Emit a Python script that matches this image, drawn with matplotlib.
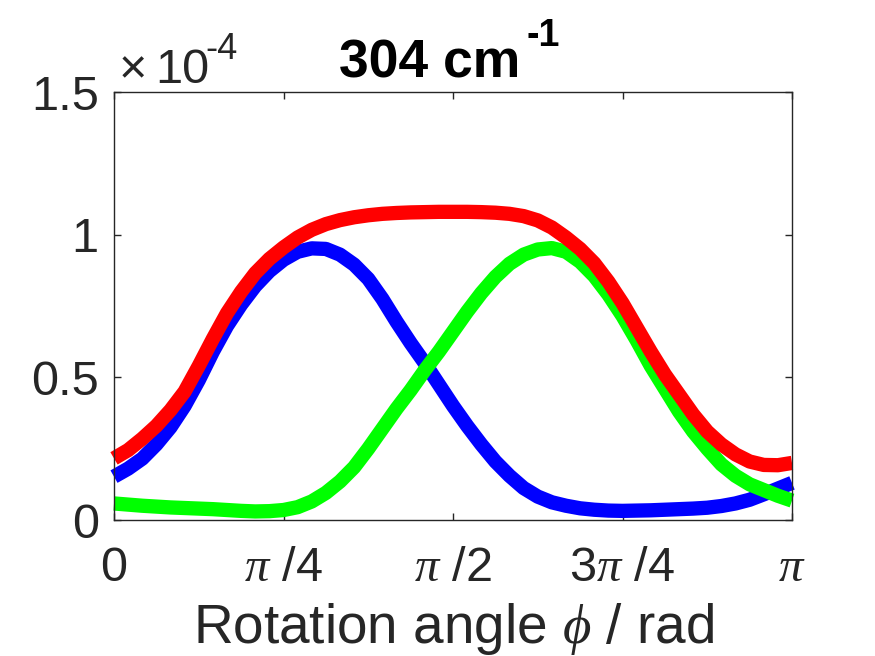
import numpy as np
import matplotlib
matplotlib.use("Agg")
import matplotlib.pyplot as plt
from matplotlib.ticker import FixedLocator

plt.rcParams['font.family'] = ['Liberation Sans', 'DejaVu Sans']
plt.rcParams['mathtext.fontset'] = 'custom'
plt.rcParams['mathtext.rm'] = 'Liberation Sans'
plt.rcParams['mathtext.it'] = 'Liberation Serif:italic'
plt.rcParams['mathtext.bf'] = 'Liberation Sans:bold'

# Rotation angle as a fraction of pi (j/48, j = 0..48)
angle_frac = [j / 48 for j in range(49)]
blue = [0.152, 0.18, 0.215, 0.265, 0.325, 0.40, 0.49, 0.59, 0.68, 0.755,
        0.82, 0.872, 0.912, 0.94, 0.952, 0.95, 0.93, 0.895, 0.845, 0.775,
        0.695, 0.62, 0.55, 0.475, 0.40, 0.33, 0.265, 0.205, 0.155, 0.112,
        0.082, 0.062, 0.05, 0.041, 0.036, 0.033, 0.032, 0.033, 0.034, 0.036,
        0.038, 0.04, 0.043, 0.049, 0.058, 0.071, 0.09, 0.11, 0.13]
green = [0.058, 0.054, 0.05, 0.047, 0.044, 0.042, 0.04, 0.038, 0.035, 0.032,
         0.03, 0.031, 0.035, 0.045, 0.065, 0.095, 0.135, 0.185, 0.25, 0.32,
         0.39, 0.455, 0.525, 0.59, 0.66, 0.73, 0.795, 0.852, 0.898, 0.93,
         0.948, 0.953, 0.94, 0.905, 0.855, 0.79, 0.715, 0.63, 0.54, 0.46,
         0.38, 0.31, 0.25, 0.195, 0.155, 0.125, 0.105, 0.085, 0.068]
red = [0.216, 0.245, 0.285, 0.33, 0.385, 0.45, 0.54, 0.635, 0.725, 0.80,
       0.865, 0.915, 0.955, 0.99, 1.017, 1.037, 1.051, 1.061, 1.068, 1.073,
       1.076, 1.078, 1.079, 1.08, 1.08, 1.08, 1.079, 1.077, 1.073, 1.065,
       1.05, 1.025, 0.99, 0.95, 0.90, 0.835, 0.76, 0.675, 0.59, 0.51,
       0.44, 0.37, 0.31, 0.265, 0.23, 0.205, 0.193, 0.192, 0.20]
scale = 1e-4

xtick_vals = [0, 0.25, 0.5, 0.75, 1.0]
xtick_labels = ['0', r'$\pi$ /4', r'$\pi$ /2', r'3$\pi$ /4', r'$\pi$']
ytick_vals = [0, 0.5, 1.0, 1.5]
ytick_labels = ['0', '0.5', '1', '1.5']

W, H = 875, 656
x = np.array(angle_frac) * np.pi

fig = plt.figure(figsize=(W / 100, H / 100), dpi=100)
ax = fig.add_axes([114 / W, (H - 520) / H, 678 / W, 428 / H])

for ys, col in ((blue, '#0000ff'), (green, '#00ff00'), (red, '#ff0000')):
    ax.plot(x, np.array(ys) * scale, color=col, lw=10.3, solid_capstyle='butt',
            solid_joinstyle='round', clip_on=False, zorder=3)

ax.set_xlim(0, np.pi)
ax.set_ylim(0, 1.5e-4)
ax.xaxis.set_major_locator(FixedLocator([v * np.pi for v in xtick_vals]))
ax.set_xticklabels(xtick_labels)
ax.yaxis.set_major_locator(FixedLocator([v * scale for v in ytick_vals]))
ax.set_yticklabels(ytick_labels)

axcol = '#262626'
for s in ax.spines.values():
    s.set_color(axcol)
    s.set_linewidth(1.0)
    s.set_zorder(4)
ax.tick_params(direction='in', length=5, width=1.0, colors=axcol, labelcolor=axcol,
               labelsize=35, top=True, right=True)
ax.tick_params(axis='x', pad=19)
ax.tick_params(axis='y', pad=11)

ax.set_xlabel(r'Rotation angle $\phi$ / rad', fontsize=39.5, color=axcol)
ax.xaxis.label.set_va('baseline')
ax.xaxis.set_label_coords(0.5, (13 - 136) / 428)

def fx(px):
    return px / W

def fy(py):
    return 1 - py / H

# Title with superscript
fig.text(fx(339), fy(77), '304 cm', fontsize=38.5, fontweight='bold', color='black',
         ha='left', va='baseline')
fig.text(fx(527), fy(46), '-1', fontsize=27, fontweight='bold', color='black',
         ha='left', va='baseline')

# Exponent label for the y axis
fig.text(fx(133), fy(83), '\u00d7', fontsize=35, color=axcol, ha='center', va='baseline')
fig.text(fx(155), fy(83), '10', fontsize=35, color=axcol, ha='left', va='baseline')
fig.text(fx(205), fy(59), '-4', fontsize=26, color=axcol, ha='left', va='baseline')

fig.savefig('out.png', dpi=100)
